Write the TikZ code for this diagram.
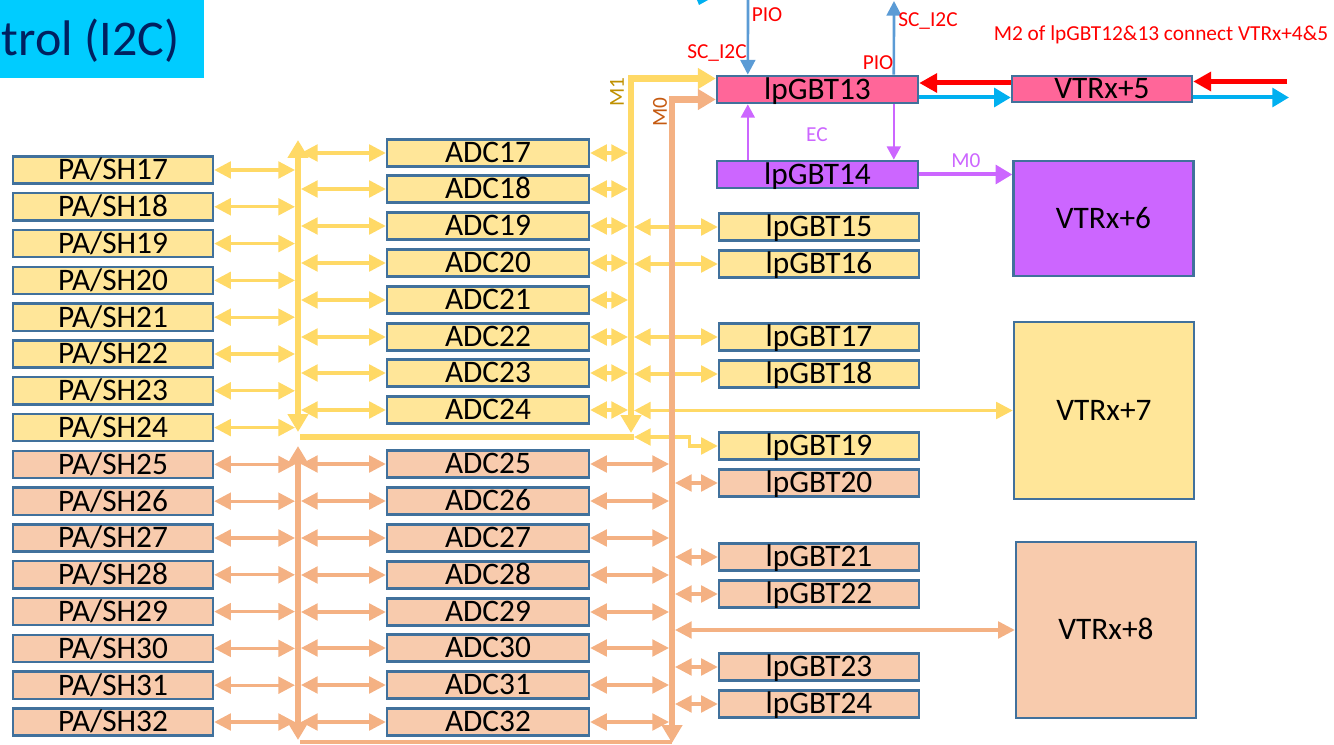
\documentclass[tikz,border=0pt]{standalone}
\usepackage{fontspec}
\setmainfont{Carlito}
\usetikzlibrary{arrows.meta,calc}
\definecolor{ybox}{RGB}{255,230,153}
\definecolor{obox}{RGB}{248,203,173}
\definecolor{bord}{RGB}{65,113,156}
\definecolor{yline}{RGB}{255,217,102}
\definecolor{oline}{RGB}{244,177,131}
\definecolor{pinkc}{RGB}{255,102,153}
\definecolor{purp}{RGB}{204,102,255}
\definecolor{bluel}{RGB}{91,155,213}
\definecolor{cyanl}{RGB}{0,176,240}
\definecolor{titlebg}{RGB}{0,204,255}
\definecolor{titletx}{RGB}{0,32,96}
\definecolor{goldt}{RGB}{191,144,0}
\definecolor{brownt}{RGB}{197,90,17}
\definecolor{redl}{RGB}{255,0,0}
\begin{document}
\begin{tikzpicture}[x=0.75pt,y=-0.75pt,
  box/.style={draw=bord, line width=1.8pt, inner sep=0pt,
    font=\fontsize{23.5}{23.5}\selectfont, text height=16.8pt, text depth=2pt},
  pabox/.style={box, minimum width=150pt, minimum height=20.5pt},
  adcbox/.style={box, minimum width=151.5pt, minimum height=20.5pt},
  lpbox/.style={box, minimum width=150pt, minimum height=20.5pt},
  vbox/.style={box, minimum width=135pt},
  lbl/.style={inner sep=0pt, font=\fontsize{16}{16}\selectfont},
  yarr/.style={draw=yline, line width=2.4pt, >={Triangle[length=12.5pt,width=12.5pt]}, <->},
  oarr/.style={draw=oline, line width=2.4pt, >={Triangle[length=12.5pt,width=12.5pt]}, <->},
  ybus/.style={draw=yline, line width=4.8pt, >={Triangle[length=13.5pt,width=15pt]}},
  obus/.style={draw=oline, line width=4.8pt, >={Triangle[length=13.5pt,width=15pt]}},
  blarr/.style={draw=bluel, line width=2pt, -{Triangle[length=11pt,width=11pt]}},
  parr/.style={draw=purp, line width=1.6pt, -{Triangle[length=10pt,width=10.5pt]}},
  pbig/.style={draw=purp, line width=3pt, -{Triangle[length=12.5pt,width=14pt]}},
  rarr/.style={draw=redl, line width=3.75pt, -{Triangle[length=13.5pt,width=14pt]}},
  carr/.style={draw=cyanl, line width=3pt, -{Triangle[length=12.5pt,width=14pt]}},
]
\useasboundingbox (0,0) rectangle (1334,745);

% title
\node[fill=titlebg, anchor=north west, minimum width=153pt, minimum height=58.5pt, inner sep=0pt] (title) at (0,0) {};
\node[anchor=east, inner sep=0pt, text=titletx, font=\fontsize{37.5}{37.5}\selectfont] (titletext) at ($(title.east)+(-25,1)$) {trol (I2C)};
\fill[cyanl] (697,0) -- (708,0) -- (699,5) -- cycle;

% bus coordinates
\coordinate (busLl) at (295,0);
\coordinate (busLr) at (301,0);
\coordinate (busRl) at (628,0);
\coordinate (busRr) at (634,0);
\coordinate (busMl) at (669,0);
\coordinate (busMr) at (675,0);

% PA/SH boxes
\foreach \i in {17,...,32}{
  \ifnum\i<25 \def\fc{ybox}\else\def\fc{obox}\fi
  \node[pabox, fill=\fc] (pa\i) at (113,{170+(\i-17)*36.8}) {PA/SH\i};
}
% ADC boxes
\foreach \i/\yy in {17/153,18/189,19/226,20/263,21/300,22/337,23/373,24/410,
                    25/464,26/501,27/538,28/575,29/612,30/648,31/685,32/722}{
  \ifnum\i<25 \def\fc{ybox}\else\def\fc{obox}\fi
  \node[adcbox, fill=\fc] (adc\i) at (488,\yy) {ADC\i};
}
% lpGBT boxes
\node[box, fill=pinkc, minimum width=150.75pt, minimum height=20.5pt] (lp13) at (817.5,89.5) {lpGBT13};
\node[box, fill=purp, minimum width=150.75pt, minimum height=20.5pt] (lp14) at (817.5,174.5) {lpGBT14};
\foreach \i/\yy/\fc in {15/227/ybox,16/264/ybox,17/337/ybox,18/374/ybox,19/446/ybox,
                        20/483/obox,21/557/obox,22/594/obox,23/667/obox,24/704/obox}{
  \node[lpbox, fill=\fc] (lp\i) at (819,\yy) {lpGBT\i};
}
% VTRx boxes
\node[vbox, fill=pinkc, minimum height=19.5pt] (v5) at (1102,89) {VTRx+5};
\node[vbox, fill=purp, minimum height=86.5pt] (v6) at (1103.5,218.5) {VTRx+6};
\node[vbox, fill=ybox, minimum height=132.5pt] (v7) at (1104,410.5) {VTRx+7};
\node[vbox, fill=obox, minimum height=132pt] (v8) at (1106,630) {VTRx+8};

% thin double arrows
\foreach \i in {17,...,24}{
  \draw[yarr] (pa\i.east) -- (pa\i.east -| busLl);
  \draw[yarr] (busLr |- adc\i.west) -- (adc\i.west);
  \draw[yarr] (adc\i.east) -- (adc\i.east -| busRl);
}
\foreach \i in {25,...,32}{
  \draw[oarr] (pa\i.east) -- (pa\i.east -| busLl);
  \draw[oarr] (busLr |- adc\i.west) -- (adc\i.west);
  \draw[oarr] (adc\i.east) -- (adc\i.east -| busMl);
}
\foreach \i in {15,16,17,18}{
  \draw[yarr] (busRr |- lp\i.west) -- (lp\i.west);
}
\draw[yarr] (busRr |- v7.west) -- (v7.west);
\coordinate (j19) at (634,437);
\draw[yarr] (j19) -| ($(lp19.west)+(-28,0)$) -- (lp19.west);
\foreach \i in {20,...,24}{
  \draw[oarr] (busMr |- lp\i.west) -- (lp\i.west);
}
\draw[oarr] (busMr |- v8.west) -- (v8.west);

% buses
\coordinate (yLt) at (298,140);
\coordinate (yLb) at (298,432);
\coordinate (yH) at (300,437);
\coordinate (m1b) at (631,433);
\coordinate (oLt) at (298,446);
\coordinate (oLb) at (298,740);
\coordinate (oH) at (300,742);
\coordinate (m0b) at (672,743);
\draw[ybus, <->] (yLt) -- (yLb);
\draw[ybus] (yH) -- (j19);
\draw[ybus, <->] (m1b) |- ($(lp13.west)+(0,-11)$);
\draw[obus, <->] (oLt) -- (oLb);
\draw[obus, line width=2.6pt] (oH) -- (oH -| m0b);
\draw[obus, <->] (m0b) |- ($(lp13.west)+(0,10)$);
\node[lbl, text=goldt, rotate=90] (m1lbl) at (617,92) {M1};
\node[lbl, text=brownt, rotate=90] (m0lbl) at (660,112) {M0};

% top connections
\coordinate (pioTop) at (748,-2);
\coordinate (scTop) at (894,1);
\draw[blarr] (pioTop) -- ($(lp13.north west)+(32,0)$);
\draw[blarr] ($(lp13.north west)+(178,0)$) -- (scTop);
\node[lbl, text=redl] (pio1) at (767,15) {PIO};
\node[lbl, text=redl] (sc1) at (717,53) {SC\_I2C};
\node[lbl, text=redl] (pio2) at (878,63) {PIO};
\node[lbl, text=redl] (sc2) at (928,21) {SC\_I2C};

% EC
\draw[parr] ($(lp14.north west)+(32,0)$) -- ($(lp13.south west)+(32,0)$);
\draw[parr] ($(lp13.south west)+(178,0)$) -- ($(lp14.north west)+(178,0)$);
\node[lbl, text=purp] (ec) at (817,135) {EC};

% lpGBT14 -> VTRx+6
\draw[pbig] (lp14.east) -- (v6.west |- lp14.east);
\node[lbl, text=purp] (m0p) at (966,161) {M0};

% red / cyan links
\coordinate (rIn) at (1287,81.5);
\coordinate (cOut) at (1289,97.5);
\draw[rarr] ($(v5.west)+(0,-6)$) -- ($(lp13.east)+(0,-6.5)$);
\draw[rarr] (rIn) -- (v5.east |- rIn);
\draw[carr] ($(lp13.east)+(0,8)$) -- ($(v5.west)+(0,8.5)$);
\draw[carr] ($(v5.east)+(0,8.5)$) -- (cOut);
\node[lbl, text=redl] (m2) at (1161,35) {M2 of lpGBT12\&13 connect VTRx+4\&5};
\end{tikzpicture}
\end{document}
